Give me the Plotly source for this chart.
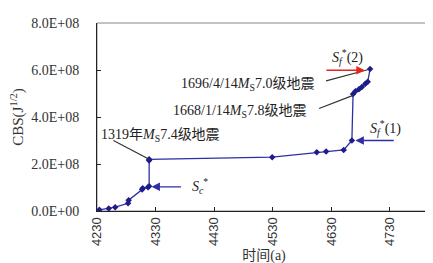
import plotly.graph_objects as go

# time = year + 3000
time_a = [4234, 4250, 4261, 4283, 4284, 4307, 4308, 4317, 4319, 4319, 4319,
          4529, 4605, 4621, 4651, 4665, 4667, 4671, 4677, 4682, 4688, 4692, 4696]
cbs = [5.0e6, 1.1e7, 1.6e7, 3.3e7, 4.6e7, 9.1e7, 9.7e7, 1.01e8, 1.05e8, 2.15e8, 2.2e8,
       2.29e8, 2.50e8, 2.53e8, 2.60e8, 3.00e8, 4.98e8, 5.10e8, 5.18e8, 5.28e8, 5.42e8, 5.50e8, 6.04e8]

x_ticks = [4230, 4330, 4430, 4530, 4630, 4730]
y_ticks = [0, 2e8, 4e8, 6e8, 8e8]
y_ticktext = ["0.0E+00", "2.0E+08", "4.0E+08", "6.0E+08", "8.0E+08"]

blue = "#2f2fa3"
serif = "Liberation Serif, Times New Roman, serif"
cjk = "Liberation Serif, Noto Sans CJK SC, serif"

fig = go.Figure()
fig.add_trace(go.Scatter(
    x=time_a, y=cbs, mode="lines+markers",
    line=dict(color=blue, width=1.3),
    marker=dict(symbol="diamond", size=5, color="#1c1c8c"),
    showlegend=False, hoverinfo="skip"))

# arrows (tip at x,y ; tail at ax,ay)
arrows = [
    dict(x=4323, y=1.03e8, ax=4376, ay=1.03e8, color=blue),        # Sc*
    dict(x=4671, y=3.0e8, ax=4739, ay=3.0e8, color=blue),          # Sf*(1)
    dict(x=4687, y=5.99e8, ax=4619, ay=5.99e8, color="#e8231c"),   # Sf*(2)
]
anns = []
for a in arrows:
    anns.append(dict(x=a["x"], y=a["y"], ax=a["ax"], ay=a["ay"], xref="x", yref="y",
                     axref="x", ayref="y", text="", showarrow=True, arrowhead=2,
                     arrowsize=1.3, arrowwidth=1.3, arrowcolor=a["color"]))

# callout leader lines (no head)
leaders = [
    (4258, 3.0e8, 4319, 2.2e8),
    (4609, 4.36e8, 4667, 4.92e8),
    (4621, 5.54e8, 4695, 6.03e8),
]
shapes = []
for x0, y0, x1, y1 in leaders:
    shapes.append(dict(type="line", xref="x", yref="y", x0=x0, y0=y0, x1=x1, y1=y1,
                       line=dict(color="#333333", width=1.2)))
# plot frame
shapes.append(dict(type="rect", xref="paper", yref="paper", x0=0, y0=0, x1=1, y1=1,
                   line=dict(color="#888888", width=1), layer="below"))

texts = [
    (4339, 3.2e8, "1319年<i>M</i><sub>S</sub>7.4级地震"),
    (4473, 4.22e8, "1668/1/14<i>M</i><sub>S</sub>7.8级地震"),
    (4486, 5.37e8, "1696/4/14<i>M</i><sub>S</sub>7.0级地震"),
    (4405, 1.07e8, "<i>S</i><sub><i>c</i></sub><sup>*</sup>"),
    (4723, 3.53e8, "<i>S</i><sub><i>f</i></sub><sup>*</sup>(1)"),
    (4657, 6.56e8, "<i>S</i><sub><i>f</i></sub><sup>*</sup>(2)"),
]
for x, y, t in texts:
    anns.append(dict(x=x, y=y, xref="x", yref="y", text=t, showarrow=False,
                     font=dict(family=cjk, size=14, color="#222222")))

fig.update_layout(
    width=433, height=263,
    margin=dict(l=89, r=10, t=8, b=60),
    plot_bgcolor="white", paper_bgcolor="white",
    annotations=anns, shapes=shapes,
    xaxis=dict(range=[4230, 4800], tickvals=x_ticks, tickangle=-90,
               ticks="inside", ticklen=4, tickcolor="#222", showgrid=False, zeroline=False,
               showline=True, linecolor="#222", linewidth=1,
               tickfont=dict(family="Liberation Sans, Arial, sans-serif", size=13, color="#333"),
               title=dict(text="时间(a)", font=dict(family=cjk, size=14, color="#333"), standoff=5)),
    yaxis=dict(range=[0, 8e8], tickvals=y_ticks, ticktext=y_ticktext,
               ticks="inside", ticklen=4, tickcolor="#222", showgrid=False, zeroline=False,
               showline=True, linecolor="#222", linewidth=1, ticklabelstandoff=14,
               tickfont=dict(family=serif, size=14, color="#333"),
               title=dict(text="CBS(J<sup>1/2</sup>)", font=dict(family=serif, size=15, color="#333"), standoff=3)),
)

fig.write_html("out.html")
